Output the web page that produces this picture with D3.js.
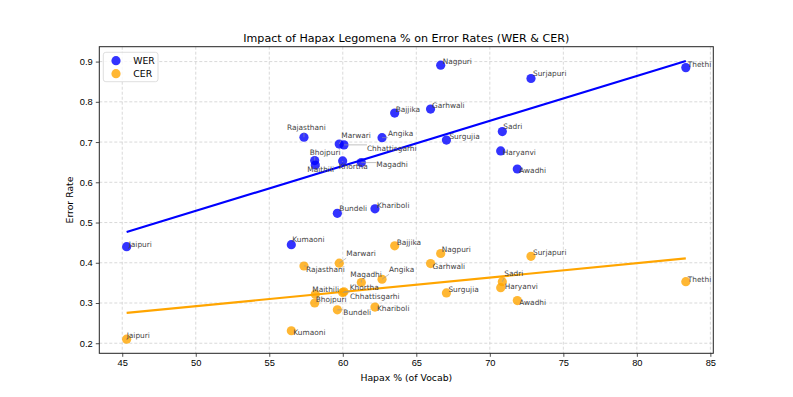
<!DOCTYPE html>
<html>
<head>
<meta charset="utf-8">
<script src="https://cdn.jsdelivr.net/npm/d3@7"></script>
<style>
  body { margin: 0; background: #fff; }
  svg { font-family: 'DejaVu Sans', sans-serif; }
</style>
</head>
<body>
<div id="chart"></div>
<script>
// data
const languages = ['Jaipuri', 'Kumaoni', 'Bundeli', 'Khariboli', 'Rajasthani', 'Marwari',
  'Chhattisgarhi', 'Bhojpuri', 'Maithili', 'Khortha', 'Magadhi', 'Angika', 'Bajjika',
  'Garhwali', 'Nagpuri', 'Surgujia', 'Sadri', 'Haryanvi', 'Awadhi', 'Surjapuri', 'Thethi']

const hapax = [45.3, 56.5, 59.63, 62.19, 57.36, 59.76, 60.08, 58.09, 58.13, 59.99, 61.26,
  62.67, 63.53, 65.97, 66.66, 67.05, 70.85, 70.74, 71.87, 72.8, 83.33]

const wer = [0.44, 0.445, 0.523, 0.534, 0.712, 0.695, 0.693, 0.654, 0.643, 0.653, 0.649,
  0.711, 0.772, 0.782, 0.891, 0.705, 0.726, 0.678, 0.633, 0.858, 0.885]

const cer = [0.21, 0.231, 0.283, 0.29, 0.392, 0.399, 0.328, 0.3, 0.322, 0.326, 0.351,
  0.359, 0.442, 0.398, 0.423, 0.325, 0.353, 0.338, 0.306, 0.416, 0.353]

const xTicks = [45, 50, 55, 60, 65, 70, 75, 80, 85]
const yTicks = [0.2, 0.3, 0.4, 0.5, 0.6, 0.7, 0.8, 0.9]

// label placement (dx, dy from the dot, px) - mimics the adjusted text in the original
const werNudge = {
  Jaipuri: [2, 0], Kumaoni: [1, -3], Bundeli: [2, -2], Khariboli: [2, -1],
  Rajasthani: [-17, -7], Marwari: [2, -6], Chhattisgarhi: [23, 6], Bhojpuri: [-5, -6],
  Maithili: [-8, 7], Khortha: [-4, 8], Magadhi: [15, 4], Angika: [6, -2],
  Bajjika: [1, -1], Garhwali: [1.5, -1], Nagpuri: [2, -1], Surgujia: [3, -1],
  Sadri: [1, -3], Haryanvi: [2, 4], Awadhi: [2, 4], Surjapuri: [2, -2], Thethi: [2, -1]
}
const cerNudge = {
  Jaipuri: [0, -1], Kumaoni: [2, 4], Bundeli: [6, 5], Khariboli: [2, 4],
  Rajasthani: [2, 6], Marwari: [7, -7], Chhattisgarhi: [6, 7], Bhojpuri: [1, -1],
  Maithili: [-3, -2], Khortha: [7, -3], Magadhi: [-11, -5], Angika: [7, -7],
  Bajjika: [2, -1], Garhwali: [2, 5], Nagpuri: [1, -2], Surgujia: [2, -1],
  Sadri: [2, -6], Haryanvi: [4, 1], Awadhi: [2, 4], Surjapuri: [2, -1], Thethi: [2, 0]
}

const W = 793
const H = 397
const margin = { top: 46.7, right: 79.7, bottom: 43.7, left: 99.3 }
const width = W - margin.left - margin.right
const height = H - margin.top - margin.bottom

const svg = d3
  .select('#chart')
  .append('svg')
  .attr('width', W)
  .attr('height', H)

const g = svg
  .append('g')
  .attr('transform', 'translate(' + margin.left + ',' + margin.top + ')')

const x = d3.scaleLinear().domain([43.44, 85.2]).range([0, width])
const y = d3.scaleLinear().domain([0.175, 0.937]).range([height, 0])

// grid
g.append('g')
  .selectAll('line')
  .data(xTicks)
  .enter()
  .append('line')
  .attr('x1', d => x(d))
  .attr('x2', d => x(d))
  .attr('y1', 0)
  .attr('y2', height)
  .attr('stroke', '#cfcfcf')
  .attr('stroke-width', 0.8)
  .attr('stroke-dasharray', '3,2')

g.append('g')
  .selectAll('line')
  .data(yTicks)
  .enter()
  .append('line')
  .attr('x1', 0)
  .attr('x2', width)
  .attr('y1', d => y(d))
  .attr('y2', d => y(d))
  .attr('stroke', '#cfcfcf')
  .attr('stroke-width', 0.8)
  .attr('stroke-dasharray', '3,2')

// axes
const xAxis = d3.axisBottom(x).tickValues(xTicks).tickSize(3.5).tickPadding(3).tickFormat(d3.format('d'))
const yAxis = d3.axisLeft(y).tickValues(yTicks).tickSize(3.5).tickPadding(3).tickFormat(d3.format('.1f'))

g.append('g')
  .attr('transform', 'translate(0,' + height + ')')
  .call(xAxis)
  .call(a => a.selectAll('text').attr('font-size', 9.3).attr('fill', '#000'))

g.append('g')
  .call(yAxis)
  .call(a => a.selectAll('text').attr('font-size', 9.3).attr('fill', '#000'))

g.selectAll('.domain').remove()
g.selectAll('.tick line').attr('stroke', '#222').attr('stroke-width', 0.8)

g.append('rect')
  .attr('width', width)
  .attr('height', height)
  .attr('fill', 'none')
  .attr('stroke', '#222')
  .attr('stroke-width', 1)

// regression lines
function fit(xs, ys) {
  const mx = d3.mean(xs)
  const my = d3.mean(ys)
  const num = d3.sum(xs, (v, i) => (v - mx) * (ys[i] - my))
  const den = d3.sum(xs, v => (v - mx) * (v - mx))
  const slope = num / den
  return v => my + slope * (v - mx)
}

const series = [
  { key: 'WER', values: wer, color: 'blue', nudge: werNudge },
  { key: 'CER', values: cer, color: 'orange', nudge: cerNudge }
]

const xExtent = d3.extent(hapax)

series.forEach(s => {
  const f = fit(hapax, s.values)
  g.append('line')
    .attr('x1', x(xExtent[0]))
    .attr('y1', y(f(xExtent[0])))
    .attr('x2', x(xExtent[1]))
    .attr('y2', y(f(xExtent[1])))
    .attr('stroke', s.color)
    .attr('stroke-width', 2.2)
})

series.forEach(s => {
  g.append('g')
    .selectAll('circle')
    .data(hapax)
    .enter()
    .append('circle')
    .attr('cx', d => x(d))
    .attr('cy', (d, i) => y(s.values[i]))
    .attr('r', 4.6)
    .attr('fill', s.color)
    .attr('fill-opacity', 0.8)
})

// labels with leader lines where the text was pushed away
series.forEach(s => {
  const lg = g.append('g')
  languages.forEach((name, i) => {
    const px = x(hapax[i])
    const py = y(s.values[i])
    const off = s.nudge[name]
    const t = lg.append('text')
      .attr('x', px + off[0])
      .attr('y', py + off[1])
      .attr('font-size', 7.4)
      .attr('fill', '#444')
      .text(name)
    if (Math.hypot(off[0], off[1]) > 6) {
      const bb = t.node().getBBox()
      const tx = Math.max(bb.x, Math.min(px, bb.x + bb.width))
      const ty = Math.max(bb.y, Math.min(py, bb.y + bb.height))
      lg.insert('line', 'text')
        .attr('x1', px)
        .attr('y1', py)
        .attr('x2', tx)
        .attr('y2', ty)
        .attr('stroke', '#999')
        .attr('stroke-width', 0.6)
    }
  })
})

// legend
const legend = g.append('g').attr('transform', 'translate(4,5.6)')
legend.append('rect')
  .attr('width', 54.7)
  .attr('height', 29.4)
  .attr('rx', 2.5)
  .attr('fill', '#fff')
  .attr('fill-opacity', 0.8)
  .attr('stroke', '#d6d6d6')
  .attr('stroke-width', 0.8)

series.forEach((s, i) => {
  legend.append('circle')
    .attr('cx', 12.7)
    .attr('cy', 8.4 + i * 13)
    .attr('r', 4.6)
    .attr('fill', s.color)
    .attr('fill-opacity', 0.8)
  legend.append('text')
    .attr('x', 30)
    .attr('y', 8.4 + i * 13)
    .attr('dy', '0.35em')
    .attr('font-size', 9.3)
    .text(s.key)
})

// titles
svg.append('text')
  .attr('x', margin.left + width / 2)
  .attr('y', 42)
  .attr('text-anchor', 'middle')
  .attr('font-size', 11.1)
  .text('Impact of Hapax Legomena % on Error Rates (WER & CER)')

svg.append('text')
  .attr('x', margin.left + width / 2)
  .attr('y', 381)
  .attr('text-anchor', 'middle')
  .attr('font-size', 9.3)
  .text('Hapax % (of Vocab)')

svg.append('text')
  .attr('transform', 'translate(72.5,' + (margin.top + height / 2) + ') rotate(-90)')
  .attr('text-anchor', 'middle')
  .attr('font-size', 9.3)
  .text('Error Rate')
</script>
</body>
</html>
